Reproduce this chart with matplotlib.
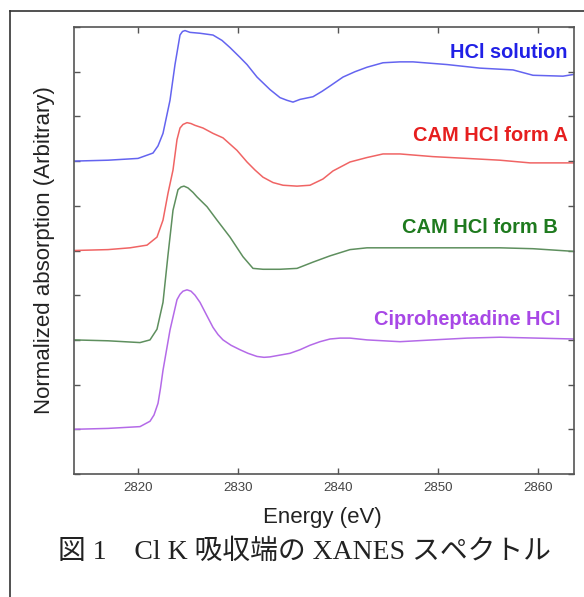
import numpy as np
import matplotlib
matplotlib.use("Agg")
import matplotlib.pyplot as plt
from matplotlib.lines import Line2D

plt.rcParams['font.family'] = ['Liberation Sans', 'DejaVu Sans']

# spectra (normalized, edge step ~1)
e_blue = [2813.6, 2817.0, 2820.0, 2821.5, 2822.0, 2822.5, 2823.2, 2823.7, 2824.2, 2824.45,
          2824.7, 2825.2, 2826.2, 2827.5, 2828.4, 2829.2, 2830.2, 2830.9, 2831.9, 2833.2,
          2834.2, 2834.9, 2835.5, 2836.2, 2837.5, 2838.4, 2839.2, 2840.5, 2841.7, 2842.9,
          2844.5, 2846.2, 2847.5, 2850.9, 2854.2, 2857.5, 2859.5, 2862.5, 2863.6]
v_blue = [0.00, 0.01, 0.03, 0.09, 0.17, 0.31, 0.68, 1.08, 1.41, 1.45,
          1.46, 1.44, 1.43, 1.41, 1.35, 1.27, 1.16, 1.08, 0.94, 0.80,
          0.71, 0.68, 0.66, 0.69, 0.72, 0.78, 0.84, 0.94, 1.00, 1.05,
          1.10, 1.11, 1.11, 1.08, 1.04, 1.02, 0.96, 0.95, 0.97]

e_red = [2813.6, 2817.0, 2819.2, 2820.9, 2821.9, 2822.5, 2823.0, 2823.5, 2823.9, 2824.2,
         2824.5, 2824.9, 2825.3, 2825.7, 2826.5, 2827.5, 2828.5, 2829.9, 2830.9, 2831.7,
         2832.5, 2833.5, 2834.5, 2835.9, 2837.2, 2838.5, 2839.5, 2841.2, 2842.9, 2844.5,
         2846.2, 2849.5, 2852.9, 2856.2, 2859.2, 2863.6]
v_red = [0.00, 0.01, 0.03, 0.06, 0.15, 0.34, 0.64, 0.90, 1.24, 1.37,
         1.41, 1.43, 1.42, 1.40, 1.37, 1.31, 1.26, 1.12, 0.99, 0.90,
         0.82, 0.76, 0.73, 0.72, 0.73, 0.80, 0.89, 0.99, 1.04, 1.08,
         1.08, 1.05, 1.03, 1.01, 0.98, 0.98]

e_green = [2813.6, 2817.0, 2820.2, 2821.2, 2821.9, 2822.5, 2823.0, 2823.5, 2824.0, 2824.3,
           2824.6, 2825.0, 2825.5, 2825.9, 2826.9, 2827.9, 2829.2, 2830.5, 2831.5, 2832.5,
           2834.2, 2835.9, 2837.5, 2839.2, 2841.2, 2842.9, 2846.2, 2851.2, 2856.2, 2859.5,
           2863.6]
v_green = [0.00, -0.01, -0.03, 0.00, 0.12, 0.42, 0.95, 1.45, 1.68, 1.71,
           1.72, 1.70, 1.65, 1.60, 1.49, 1.34, 1.15, 0.93, 0.80, 0.79,
           0.79, 0.80, 0.87, 0.94, 1.01, 1.03, 1.03, 1.03, 1.03, 1.02,
           0.99]

e_purple = [2813.6, 2817.0, 2820.2, 2821.2, 2821.6, 2822.0, 2822.25, 2822.5, 2823.2, 2823.9,
            2824.2, 2824.5, 2824.9, 2825.3, 2825.7, 2826.2, 2826.8, 2827.5, 2828.0, 2828.5,
            2829.3, 2830.2, 2831.0, 2831.9, 2832.6, 2833.2, 2834.2, 2835.2, 2836.2, 2837.2,
            2838.2, 2839.2, 2840.2, 2841.2, 2842.9, 2846.2, 2849.5, 2852.9, 2856.2, 2863.6]
v_purple = [0.00, 0.01, 0.03, 0.09, 0.16, 0.29, 0.46, 0.66, 1.11, 1.45,
            1.51, 1.545, 1.56, 1.545, 1.50, 1.42, 1.29, 1.14, 1.06, 1.00,
            0.94, 0.89, 0.85, 0.815, 0.805, 0.81, 0.83, 0.85, 0.89, 0.94,
            0.98, 1.01, 1.02, 1.02, 1.00, 0.98, 1.00, 1.02, 1.03, 1.01]

names = ["HCl solution", "CAM HCl form A", "CAM HCl form B", "Ciproheptadine HCl"]
offsets = [3, 2, 1, 0]
line_colors = ["#6464f0", "#f06464", "#5e8f5e", "#b46ae8"]
text_colors = ["#2020e6", "#e61e1e", "#1e7a1e", "#a848e6"]
energies = [e_blue, e_red, e_green, e_purple]
values = [v_blue, v_red, v_green, v_purple]

fig = plt.figure(figsize=(5.84, 5.97), dpi=100)
ax = fig.add_axes([74/584, 1-474/597, 500/584, 447/597])

label_y = [4.21, 3.29, 2.26, 1.23]
label_x = [2862.9, 2863.0, 2862.0, 2862.2]
for i in range(4):
    ax.plot(energies[i], np.array(values[i]) + offsets[i], color=line_colors[i], lw=1.1)
    ax.text(label_x[i], label_y[i], names[i], color=text_colors[i], fontsize=14.4,
            fontweight='bold', ha='right', va='center')

ax.set_xlim(2813.6, 2863.6)
ax.set_ylim(-0.5, 4.5)
ax.set_xticks([2820, 2830, 2840, 2850, 2860])
ax.set_yticks(np.arange(-0.5, 4.51, 0.5))
ax.set_yticklabels([])
ax.tick_params(direction='in', top=True, right=True, length=4, width=1,
               color='#555555', labelcolor='#444444', labelsize=9.5, pad=6)
for s in ax.spines.values():
    s.set_color('#555555')
    s.set_linewidth(1.2)

fig.text(45/584, 1-250/597, "Normalized absorption (Arbitrary)", rotation=90,
         ha='center', va='center', fontsize=16, color='#222222')
fig.text(322/584, 1-517/597, "Energy (eV)", ha='center', va='center',
         fontsize=16, color='#222222')
fig.text(304/584, 1-552/597, "図 1　Cl K 吸収端の XANES スペクトル", ha='center', va='center',
         fontsize=20, color='#222222',
         family=['Liberation Serif', 'Noto Sans CJK JP'])

# outer frame of the figure panel (cut off at right and bottom)
fig.add_artist(Line2D([10/584, 1.0], [1-11/597, 1-11/597], transform=fig.transFigure,
                      color='#333333', lw=1.2))
fig.add_artist(Line2D([10/584, 10/584], [1-11/597, 0.0], transform=fig.transFigure,
                      color='#333333', lw=1.2))

fig.savefig("out.png", dpi=100)
